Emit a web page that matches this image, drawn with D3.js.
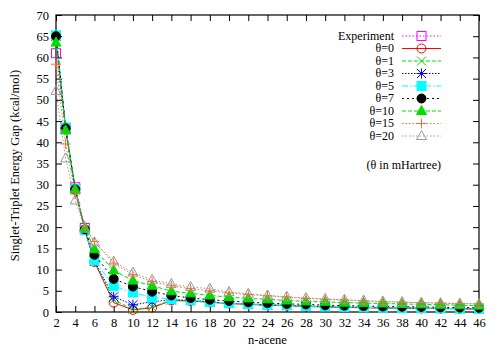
<!DOCTYPE html>
<html>
<head>
<meta charset="utf-8">
<script src="https://cdn.jsdelivr.net/npm/d3@7"></script>
<style>
  body { margin: 0; background: #fff; }
  text { font-family: "Liberation Serif", "DejaVu Serif", serif !important; }
</style>
</head>
<body>
<svg id="chart" width="500" height="350"></svg>
<script>
// n-acene lengths
const acenes = [2, 3, 4, 5, 6, 8, 10, 12, 14, 16, 18, 20, 22, 24, 26, 28, 30, 32, 34, 36, 38, 40, 42, 44, 46];
const expN = [2, 3, 4, 5];

const experiment = [61.0, 43.1, 29.4, 19.8];
const theta0  = [65.0, 43.3, 29.0, 19.3, 11.8, 2.2, 0.5, 1.0, 2.7, 2.6, 2.3, 2.0, 1.8, 1.6, 1.5, 1.3, 1.2, 1.1, 1.0, 0.95, 0.9, 0.85, 0.8, 0.75, 0.7];
const theta1  = [65.0, 43.3, 29.0, 19.3, 11.9, 2.9, 0.6, 1.2, 2.8, 2.6, 2.3, 2.0, 1.8, 1.6, 1.5, 1.3, 1.2, 1.1, 1.0, 0.95, 0.9, 0.85, 0.8, 0.75, 0.7];
const theta3  = [65.0, 43.3, 29.0, 19.3, 12.0, 3.6, 1.7, 2.4, 2.9, 2.7, 2.4, 2.1, 1.9, 1.7, 1.6, 1.4, 1.3, 1.2, 1.1, 1.0, 0.95, 0.9, 0.85, 0.8, 0.75];
const theta5  = [65.2, 43.5, 29.0, 19.3, 12.2, 6.1, 4.6, 3.4, 3.1, 2.8, 2.4, 2.1, 1.9, 1.7, 1.6, 1.4, 1.3, 1.2, 1.1, 1.0, 0.95, 0.9, 0.85, 0.8, 0.75];
const theta7  = [65.0, 43.3, 28.9, 19.5, 13.5, 7.8, 6.0, 4.8, 3.9, 3.3, 2.9, 2.6, 2.3, 2.1, 1.9, 1.8, 1.6, 1.5, 1.4, 1.3, 1.25, 1.2, 1.1, 1.05, 1.0];
const theta10 = [63.5, 42.8, 28.9, 19.8, 14.8, 9.8, 7.4, 6.2, 4.9, 4.4, 3.9, 3.5, 3.2, 3.0, 2.7, 2.5, 2.4, 2.2, 2.1, 2.0, 1.9, 1.8, 1.7, 1.6, 1.5];
const theta15 = [58.4, 39.6, 27.8, 20.3, 16.6, 11.5, 8.8, 7.2, 6.2, 5.5, 5.0, 4.5, 4.1, 3.8, 3.5, 3.2, 3.0, 2.8, 2.6, 2.4, 2.3, 2.2, 2.1, 2.0, 1.9];
const theta20 = [52.1, 36.2, 26.3, 19.6, 16.4, 11.9, 9.3, 7.6, 6.6, 5.9, 5.5, 4.7, 4.3, 3.9, 3.6, 3.3, 3.1, 2.9, 2.7, 2.5, 2.35, 2.2, 2.1, 2.0, 1.9];

const xTicks = d3.range(2, 47, 2);
const yTicks = d3.range(0, 71, 5);

const series = [
  { name: "Experiment", xs: expN,   ys: experiment, color: "#ff00ff", dash: "1.5,2", sym: "square" },
  { name: "θ=0",  xs: acenes, ys: theta0,  color: "#ff0000", dash: null,      sym: "circle" },
  { name: "θ=1",  xs: acenes, ys: theta1,  color: "#00e000", dash: "4,2",     sym: "x" },
  { name: "θ=3",  xs: acenes, ys: theta3,  color: "#0000ff", dash: "1.5,1.5", sym: "star" },
  { name: "θ=5",  xs: acenes, ys: theta5,  color: "#00ffff", dash: "6,2,1.5,2", sym: "fsquare" },
  { name: "θ=7",  xs: acenes, ys: theta7,  color: "#000000", dash: "2,3",     sym: "fcircle" },
  { name: "θ=10", xs: acenes, ys: theta10, color: "#00dd00", dash: "4,2",     sym: "ftriangle" },
  { name: "θ=15", xs: acenes, ys: theta15, color: "#ff6a2a", dash: "1.5,2",   sym: "plus" },
  { name: "θ=20", xs: acenes, ys: theta20, color: "#999999", dash: "1.5,2",   sym: "triangle" }
];

const serif = "Liberation Serif, DejaVu Serif, serif";

const margin = { top: 15, right: 21, bottom: 38, left: 56 };
const width = 500 - margin.left - margin.right;
const height = 350 - margin.top - margin.bottom;

const svg = d3.select("#chart").attr("font-family", serif);
const g = svg.append("g").attr("transform", `translate(${margin.left},${margin.top})`);

const x = d3.scaleLinear().domain([2, 46]).range([0, width]);
const y = d3.scaleLinear().domain([0, 70]).range([height, 0]);

// axes with inward ticks, mirrored on top/right
const tickLen = 6;
const axes = g.append("g");
axes.append("g").attr("transform", `translate(0,${height})`)
  .call(d3.axisBottom(x).tickValues(xTicks).tickSizeInner(-tickLen).tickSizeOuter(0).tickPadding(6));
axes.append("g")
  .call(d3.axisTop(x).tickValues(xTicks).tickSizeInner(-tickLen).tickSizeOuter(0).tickFormat(""));
axes.append("g")
  .call(d3.axisLeft(y).tickValues(yTicks).tickSizeInner(-tickLen).tickSizeOuter(0).tickPadding(7));
axes.append("g").attr("transform", `translate(${width},0)`)
  .call(d3.axisRight(y).tickValues(yTicks).tickSizeInner(-tickLen).tickSizeOuter(0).tickFormat(""));

axes.selectAll(".domain").remove();
axes.selectAll("g").attr("font-family", serif).attr("font-size", 12.5);
axes.selectAll(".tick line").attr("stroke", "#000").attr("stroke-width", 1);
axes.selectAll(".tick text").attr("fill", "#000");

g.append("rect").attr("width", width).attr("height", height)
  .attr("fill", "none").attr("stroke", "#000").attr("stroke-width", 1.2);

// marker drawing
function marker(sel, sym, color, cx, cy) {
  const r = 4.5;
  const mg = sel.append("g").attr("transform", `translate(${cx},${cy})`);
  if (sym === "square" || sym === "fsquare") {
    mg.append("rect").attr("x", -r).attr("y", -r).attr("width", 2 * r).attr("height", 2 * r)
      .attr("fill", sym === "fsquare" ? color : "none").attr("stroke", color).attr("stroke-width", 1);
  } else if (sym === "circle" || sym === "fcircle") {
    mg.append("circle").attr("r", r)
      .attr("fill", sym === "fcircle" ? color : "none").attr("stroke", color).attr("stroke-width", 1);
  } else if (sym === "triangle" || sym === "ftriangle") {
    mg.append("path").attr("d", `M0,${-r - 1}L${r + 0.5},${r - 1}L${-r - 0.5},${r - 1}Z`)
      .attr("fill", sym === "ftriangle" ? color : "none").attr("stroke", color).attr("stroke-width", 1);
  } else {
    let d = "";
    if (sym === "x" || sym === "star") d += `M${-r},${-r}L${r},${r}M${-r},${r}L${r},${-r}`;
    if (sym === "plus" || sym === "star") d += `M${-r - 0.5},0L${r + 0.5},0M0,${-r - 0.5}L0,${r + 0.5}`;
    mg.append("path").attr("d", d).attr("fill", "none").attr("stroke", color).attr("stroke-width", 1);
  }
}

const line = d3.line().x(d => x(d[0])).y(d => y(d[1]));
const plot = g.append("g");

series.forEach(s => {
  const pts = s.xs.map((n, i) => [n, s.ys[i]]);
  plot.append("path").datum(pts).attr("d", line)
    .attr("fill", "none").attr("stroke", s.color).attr("stroke-width", 1)
    .attr("stroke-dasharray", s.dash);
  pts.forEach(p => marker(plot, s.sym, s.color, x(p[0]), y(p[1])));
});

// legend
const legend = svg.append("g").attr("font-size", 12);
const lx = 394, ly = 36, rowH = 12.5;
series.forEach((s, i) => {
  const yy = ly + i * rowH;
  legend.append("text").attr("x", lx).attr("y", yy).attr("dy", "0.33em")
    .attr("text-anchor", "end").text(s.name);
  legend.append("line").attr("x1", 402).attr("x2", 441).attr("y1", yy).attr("y2", yy)
    .attr("stroke", s.color).attr("stroke-width", 1).attr("stroke-dasharray", s.dash);
  marker(legend, s.sym, s.color, 421.5, yy);
});
legend.append("text").attr("x", 441).attr("y", 165).attr("dy", "0.35em")
  .attr("text-anchor", "end").text("(θ in mHartree)");

// axis titles
svg.append("text").attr("x", margin.left + width / 2).attr("y", 344)
  .attr("text-anchor", "middle").attr("font-size", 12.5).text("n-acene");
svg.append("text").attr("transform", `translate(15,${margin.top + height / 2 + 2}) rotate(-90)`)
  .attr("text-anchor", "middle").attr("dy", "0.35em").attr("font-size", 12.5)
  .text("Singlet-Triplet Energy Gap (kcal/mol)");
</script>
</body>
</html>
